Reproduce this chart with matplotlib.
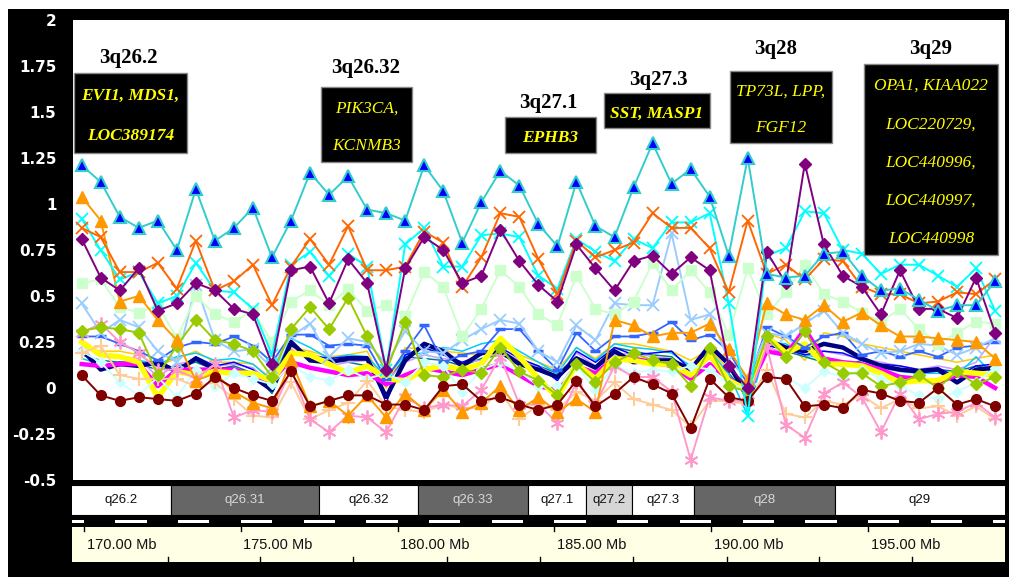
import numpy as np
import matplotlib.pyplot as plt
from matplotlib.patches import Rectangle

W, H = 1009, 577

# ---- data: copy-number log ratios for 49 probes along 3q
cyan_tri = [1.21, 1.12, 0.93, 0.87, 0.91, 0.75, 1.08, 0.80, 0.87, 0.98, 0.71, 0.91, 1.17, 1.05, 1.15, 0.97, 0.95,
            0.91, 1.21, 1.07, 0.79, 1.01, 1.18, 1.10, 0.89, 0.77, 1.12, 0.88, 0.82, 1.09, 1.33, 1.11, 1.19, 1.04,
            0.72, 1.25, 0.62, 0.60, 0.61, 0.73, 0.74, 0.61, 0.53, 0.54, 0.48, 0.42, 0.45, 0.45, 0.58]
orange_x = [0.87, 0.82, 0.63, 0.63, 0.68, 0.54, 0.80, 0.53, 0.58, 0.67, 0.45, 0.66, 0.81, 0.67, 0.88, 0.64, 0.64,
            0.66, 0.85, 0.79, 0.55, 0.71, 0.95, 0.93, 0.70, 0.51, 0.80, 0.71, 0.75, 0.79, 0.95, 0.87, 0.87, 0.76,
            0.52, 0.91, 0.62, 0.67, 0.59, 0.70, 0.69, 0.55, 0.51, 0.51, 0.46, 0.47, 0.52, 0.51, 0.59]
purple_dia = [0.81, 0.60, 0.53, 0.65, 0.42, 0.46, 0.57, 0.53, 0.43, 0.40, 0.13, 0.64, 0.66, 0.46, 0.70, 0.57, 0.10,
              0.65, 0.82, 0.75, 0.57, 0.61, 0.86, 0.69, 0.56, 0.47, 0.78, 0.65, 0.53, 0.69, 0.72, 0.62, 0.71, 0.64,
              0.12, 0.00, 0.74, 0.57, 1.22, 0.78, 0.61, 0.55, 0.40, 0.64, 0.43, 0.43, 0.38, 0.60, 0.30]
cyan_x = [0.92, 0.75, 0.59, 0.63, 0.46, 0.50, 0.68, 0.53, 0.52, 0.43, 0.18, 0.67, 0.74, 0.61, 0.73, 0.66, 0.10,
          0.78, 0.87, 0.66, 0.66, 0.83, 0.84, 0.82, 0.61, 0.54, 0.81, 0.74, 0.69, 0.81, 0.76, 0.90, 0.90, 0.95,
          0.46, -0.15, 0.72, 0.76, 0.96, 0.95, 0.75, 0.73, 0.62, 0.67, 0.67, 0.61, 0.55, 0.65, 0.42]
green_sq = [0.57, 0.59, 0.44, 0.41, 0.45, 0.27, 0.50, 0.40, 0.36, 0.42, 0.25, 0.47, 0.53, 0.45, 0.54, 0.42, 0.45,
            0.39, 0.63, 0.55, 0.28, 0.43, 0.64, 0.55, 0.40, 0.34, 0.61, 0.43, 0.40, 0.47, 0.68, 0.53, 0.64, 0.52,
            0.29, 0.65, 0.40, 0.52, 0.67, 0.51, 0.47, 0.41, 0.36, 0.43, 0.32, 0.24, 0.30, 0.36, 0.35]
orange_tri = [1.04, 0.91, 0.47, 0.50, 0.37, 0.26, 0.04, 0.08, -0.02, -0.08, -0.11, 0.15, -0.10, -0.07, -0.15, -0.04,
              -0.16, -0.03, -0.12, -0.01, -0.13, -0.08, 0.01, -0.12, -0.05, -0.13, -0.06, -0.13, 0.37, 0.34, 0.28,
              0.30, 0.30, 0.35, 0.21, 0.05, 0.46, 0.40, 0.37, 0.45, 0.36, 0.41, 0.34, 0.28, 0.28, 0.27, 0.26, 0.25, 0.16]
green_dia = [0.31, 0.33, 0.32, 0.30, 0.07, 0.23, 0.37, 0.26, 0.24, 0.20, 0.06, 0.32, 0.44, 0.32, 0.49, 0.28, 0.09,
             0.36, 0.07, 0.06, 0.10, 0.08, 0.22, 0.09, 0.04, -0.04, 0.13, 0.03, 0.14, 0.19, 0.15, 0.13, 0.01, 0.22,
             0.01, -0.02, 0.28, 0.17, 0.31, 0.14, 0.08, 0.08, 0.01, 0.03, 0.07, 0.00, 0.09, 0.02, 0.06]
ltblue_x = [0.46, 0.30, 0.37, 0.33, 0.20, 0.14, 0.56, 0.26, 0.20, 0.21, 0.11, 0.28, 0.35, 0.17, 0.27, 0.25, 0.13,
            0.31, 0.20, 0.19, 0.26, 0.32, 0.37, 0.35, 0.20, 0.14, 0.34, 0.26, 0.46, 0.45, 0.45, 0.84, 0.37, 0.40,
            0.15, 0.05, 0.30, 0.28, 0.35, 0.42, 0.30, 0.24, 0.19, 0.20, 0.24, 0.23, 0.18, 0.22, 0.27]
darkred = [0.07, -0.04, -0.07, -0.05, -0.06, -0.07, -0.03, 0.06, 0.00, -0.04, -0.07, 0.09, -0.10, -0.07, -0.04, -0.04,
           -0.09, -0.09, -0.12, 0.01, 0.02, -0.07, -0.05, -0.09, -0.12, -0.09, 0.04, -0.10, -0.03, 0.06, 0.02, -0.03,
           -0.22, 0.05, -0.05, -0.07, 0.06, 0.05, -0.10, -0.09, -0.11, -0.01, -0.03, -0.07, -0.08, 0.00, -0.09, -0.06, -0.10]
pink_ast = [0.30, 0.35, 0.25, 0.19, 0.10, 0.10, 0.05, 0.13, -0.16, -0.12, -0.13, 0.10, -0.17, -0.24, -0.15, -0.16,
            -0.24, -0.05, -0.11, -0.09, -0.10, -0.01, 0.17, -0.09, -0.09, -0.19, 0.03, -0.09, 0.12, 0.06, 0.06, -0.02,
            -0.39, -0.05, -0.07, -0.07, 0.23, -0.20, -0.27, -0.03, 0.03, -0.05, -0.24, -0.03, -0.17, -0.14, -0.13, -0.08, -0.16]
peach_plus = [0.19, 0.23, 0.07, 0.05, 0.05, 0.05, 0.01, 0.03, -0.06, -0.15, -0.16, 0.03, -0.17, -0.12, -0.08, 0.04,
              -0.10, -0.12, -0.13, -0.09, -0.11, -0.11, -0.02, -0.17, -0.09, -0.12, -0.02, -0.07, 0.03, -0.06, -0.09,
              -0.12, -0.21, -0.07, -0.07, -0.09, 0.10, -0.14, -0.16, -0.07, -0.09, -0.04, -0.11, -0.06, -0.11, -0.10,
              -0.15, -0.10, -0.17]
navy = [0.21, 0.10, 0.13, 0.12, 0.14, 0.09, 0.16, 0.10, 0.10, 0.06, -0.01, 0.25, 0.15, 0.14, 0.16, 0.16, -0.05,
        0.15, 0.24, 0.20, 0.12, 0.19, 0.20, 0.13, 0.10, 0.06, 0.16, 0.11, 0.20, 0.14, 0.15, 0.15, 0.10, 0.23, 0.13,
        -0.05, 0.26, 0.22, 0.20, 0.24, 0.22, 0.16, 0.12, 0.10, 0.09, 0.10, 0.03, 0.10, 0.11]
yellow = [0.25, 0.18, 0.17, 0.14, -0.05, 0.09, 0.07, 0.09, 0.08, 0.08, 0.04, 0.19, 0.18, 0.13, 0.08, 0.12, 0.05,
          0.04, 0.10, 0.12, 0.10, 0.13, 0.27, 0.17, 0.05, -0.05, 0.13, 0.05, 0.16, 0.15, 0.13, 0.13, 0.07, 0.18,
          0.04, -0.01, 0.28, 0.19, 0.24, 0.13, 0.13, 0.12, 0.08, 0.03, 0.04, 0.04, 0.09, 0.08, 0.07]
magenta = [0.13, 0.12, 0.13, 0.13, 0.01, 0.10, 0.10, 0.10, 0.10, 0.07, 0.03, 0.14, 0.11, 0.09, 0.07, 0.08, 0.02,
           0.07, 0.11, 0.09, 0.07, 0.10, 0.13, 0.07, 0.01, -0.01, 0.12, 0.08, 0.16, 0.16, 0.14, 0.12, 0.05, 0.13,
           0.05, -0.02, 0.20, 0.18, 0.32, 0.16, 0.14, 0.13, 0.10, 0.06, 0.05, 0.03, 0.07, 0.06, 0.00]
ltcyan_dia = [0.20, 0.14, 0.03, -0.04, 0.06, -0.05, 0.10, 0.01, 0.08, 0.05, 0.02, 0.13, 0.06, 0.04, 0.10, 0.05,
              0.08, 0.03, 0.14, 0.12, -0.02, 0.10, 0.14, 0.09, 0.01, 0.01, 0.12, -0.01, 0.12, 0.08, 0.10, 0.09,
              0.12, 0.10, 0.02, 0.00, 0.05, 0.06, 0.00, 0.09, 0.06, 0.10, 0.05, 0.01, -0.04, -0.06, -0.02, 0.03, 0.11]
royal = [0.28, 0.28, 0.24, 0.20, 0.15, 0.22, 0.25, 0.24, 0.28, 0.23, 0.14, 0.29, 0.29, 0.23, 0.24, 0.23, 0.05,
         0.20, 0.34, 0.14, 0.18, 0.20, 0.32, 0.32, 0.20, 0.10, 0.30, 0.20, 0.28, 0.28, 0.30, 0.36, 0.26, 0.29,
         0.20, 0.02, 0.33, 0.28, 0.22, 0.28, 0.30, 0.18, 0.20, 0.17, 0.20, 0.17, 0.22, 0.23, 0.25]
gold = [0.22, 0.20, 0.20, 0.18, 0.12, 0.16, 0.20, 0.14, 0.14, 0.13, 0.05, 0.22, 0.20, 0.17, 0.18, 0.20, 0.00,
        0.22, 0.21, 0.20, 0.19, 0.18, 0.24, 0.18, 0.14, 0.10, 0.22, 0.16, 0.24, 0.24, 0.22, 0.20, 0.15, 0.21,
        0.10, 0.02, 0.30, 0.26, 0.15, 0.30, 0.28, 0.24, 0.22, 0.20, 0.18, 0.16, 0.14, 0.16, 0.18]
teal = [0.18, 0.15, 0.14, 0.13, 0.10, 0.12, 0.14, 0.10, 0.12, 0.08, -0.03, 0.20, 0.17, 0.15, 0.14, 0.12, 0.02,
        0.17, 0.16, 0.15, 0.12, 0.16, 0.18, 0.14, 0.12, 0.08, 0.17, 0.12, 0.22, 0.20, 0.18, 0.17, 0.08, 0.17,
        0.08, -0.04, 0.24, 0.20, 0.17, 0.14, 0.12, 0.15, 0.12, 0.10, 0.08, 0.10, 0.09, 0.12, 0.10]
lavender = [0.24, 0.19, 0.17, 0.16, 0.06, 0.13, 0.15, 0.12, 0.13, 0.11, 0.02, 0.21, 0.16, 0.12, 0.14, 0.15, 0.04,
            0.14, 0.18, 0.16, 0.14, 0.15, 0.20, 0.15, 0.12, 0.06, 0.19, 0.12, 0.18, 0.19, 0.17, 0.16, 0.09, 0.16,
            0.06, -0.01, 0.22, 0.19, 0.21, 0.20, 0.18, 0.16, 0.14, 0.12, 0.10, 0.12, 0.10, 0.14, 0.28]
deepsky = [0.16, 0.13, 0.12, 0.15, 0.13, 0.17, 0.19, 0.15, 0.16, 0.13, 0.04, 0.27, 0.22, 0.16, 0.18, 0.17, 0.06,
           0.18, 0.19, 0.22, 0.20, 0.24, 0.26, 0.20, 0.14, 0.08, 0.22, 0.15, 0.24, 0.22, 0.21, 0.19, 0.12, 0.20,
           0.08, -0.15, 0.25, 0.24, 0.18, 0.16, 0.13, 0.12, 0.11, 0.09, 0.08, 0.08, 0.07, 0.17, 0.06]
blue = [0.19, 0.12, 0.14, 0.14, 0.12, 0.10, 0.17, 0.12, 0.14, 0.10, 0.00, 0.23, 0.18, 0.16, 0.17, 0.17, -0.08,
        0.18, 0.22, 0.18, 0.14, 0.18, 0.22, 0.16, 0.12, 0.04, 0.20, 0.14, 0.22, 0.18, 0.19, 0.20, 0.10, 0.22,
        0.14, -0.08, 0.23, 0.21, 0.18, 0.20, 0.19, 0.15, 0.13, 0.12, 0.10, 0.11, 0.06, 0.12, 0.13]

ytick_vals = [2, 1.75, 1.5, 1.25, 1, 0.75, 0.5, 0.25, 0, -0.25, -0.5]
ytick_labels = ['2', '1.75', '1.5', '1.25', '1', '0.75', '0.5', '0.25', '0', '-0.25', '-0.5']

# cytobands (Mb)
band_names = ['q26.2', 'q26.31', 'q26.32', 'q26.33', 'q27.1', 'q27.2', 'q27.3', 'q28', 'q29']
band_start = [169.0, 172.77, 177.49, 180.65, 184.16, 186.01, 187.47, 189.45, 193.95]
band_end = [172.77, 177.49, 180.65, 184.16, 186.01, 187.47, 189.45, 193.95, 200.0]
band_stain = ['w', 'd', 'w', 'd', 'w', 'l', 'w', 'd', 'w']
mb_labels = [170, 175, 180, 185, 190, 195]
minor_mb = [172.68, 175.61, 178.58, 181.58, 184.54, 187.50, 190.50, 193.43, 196.40]

regions = ['3q26.2', '3q26.32', '3q27.1', '3q27.3', '3q28', '3q29']
genes = [['EVI1, MDS1,', 'LOC389174'], ['PIK3CA,', 'KCNMB3'], ['EPHB3'], ['SST, MASP1'],
         ['TP73L, LPP,', 'FGF12'],
         ['OPA1, KIAA022', 'LOC220729,', 'LOC440996,', 'LOC440997,', 'LOC440998']]
genes_bold = [True, False, True, True, False, False]

# ---- layout helpers (pixel -> figure fraction)
def fx(px):
    return px / W

def fy(py):
    return 1 - py / H

fig = plt.figure(figsize=(W / 100, H / 100), dpi=100, facecolor='white')
fig.patches.append(Rectangle((fx(8), 0), 1 - fx(8), fy(9), transform=fig.transFigure,
                             facecolor='black', edgecolor='none', zorder=-5))

# main plot
ax = fig.add_axes([fx(73), fy(480), fx(1005) - fx(73), fy(20) - fy(480)])
ax.set_facecolor('white')
xs = np.arange(len(cyan_tri))

thin = [(gold, '#FFCC00'), (teal, '#008080'), (lavender, '#CC99FF'), (deepsky, '#00CCFF'), (blue, '#0000FF')]
for vals, col in thin:
    ax.plot(xs, vals, color=col, lw=1.1, zorder=2)

ax.plot(xs, navy, color='#000080', lw=3.2, zorder=3)
ax.plot(xs, magenta, color='#FF00FF', lw=3.2, zorder=3)
ax.plot(xs, yellow, color='#FFFF00', lw=4, zorder=3)
ax.plot(xs, royal, color='#3366FF', lw=1.3, marker='_', ms=7, mew=2.5, zorder=3)

marked = [
    (ltcyan_dia, '#CCFFFF', 'D', 5.5, '#CCFFFF', '#CCFFFF', 1.0),
    (peach_plus, '#FFCC99', '+', 10, '#FFCC99', '#FFCC99', 1.5),
    (pink_ast, '#FF99CC', (6, 2, 0), 10, '#FF99CC', '#FF99CC', 1.3),
    (ltblue_x, '#99CCFF', 'x', 8, '#99CCFF', '#99CCFF', 1.3),
    (green_sq, '#CCFFCC', 's', 6.5, '#CCFFCC', '#CCFFCC', 1.0),
    (green_dia, '#99CC00', 'D', 6, '#99CC00', '#99CC00', 1.0),
    (orange_tri, '#FF9900', '^', 9, '#FF9900', '#FF9900', 1.0),
    (darkred, '#800000', 'o', 7, '#800000', '#800000', 1.0),
    (cyan_x, '#00FFFF', 'x', 9, '#00FFFF', '#00FFFF', 1.3),
    (orange_x, '#FF6600', 'x', 9, '#FF6600', '#FF6600', 1.3),
    (purple_dia, '#800080', 'D', 6.5, '#800080', '#800080', 1.0),
    (cyan_tri, '#33CCCC', '^', 8, '#0000FF', '#33CCCC', 1.5),
]
for vals, col, mk, ms, mfc, mec, mew in marked:
    ax.plot(xs, vals, color=col, lw=1.4, marker=mk, ms=ms, mfc=mfc, mec=mec, mew=mew, zorder=4)

ax.set_xlim(-0.457, 48.52)
ax.set_ylim(-0.5, 2)
ax.set_xticks([])
ax.set_yticks(ytick_vals)
ax.set_yticklabels(ytick_labels)
ax.tick_params(axis='y', length=0, pad=12, labelcolor='white', labelsize=11)
for lab in ax.get_yticklabels():
    lab.set_fontweight('bold')
    lab.set_fontfamily('DejaVu Sans')
for s in ax.spines.values():
    s.set_visible(False)

# region annotations
boxes = [(74, 73, 187, 153), (321, 87, 412, 162), (505, 117, 596, 153), (604, 93, 710, 128),
         (730, 71, 832, 143), (864, 64, 998, 255)]
label_pos = [(128, 58), (366, 68), (548, 103), (658, 80), (776, 49), (931, 49)]
for name, gl, bold, (x0, y0, x1, y1), (lx, ly) in zip(regions, genes, genes_bold, boxes, label_pos):
    fig.patches.append(Rectangle((fx(x0), fy(y1)), fx(x1) - fx(x0), fy(y0) - fy(y1), transform=fig.transFigure,
                                 facecolor='black', edgecolor='#888888', lw=1, zorder=5))
    fig.text(fx(lx), fy(ly), name, ha='center', va='center', family='Liberation Serif',
             fontweight='bold', fontsize=15, color='black', zorder=6)
    n = len(gl)
    step = (y1 - y0) / n
    for i, g in enumerate(gl):
        fig.text(fx((x0 + x1) / 2), fy(y0 + (i + 0.5) * step + 3), g, ha='center', va='center',
                 family='Liberation Serif', style='italic', fontweight='bold' if bold else 'normal',
                 fontsize=12.5, color='#FFFF00', zorder=6)

# chromosome ideogram + ruler
def mb_at(px):
    return 170 + (px - 84) / 31.36

ax2 = fig.add_axes([fx(72), fy(562), fx(1005) - fx(72), fy(484) - fy(562)])
ax2.set_xlim(mb_at(72), mb_at(1005))
ax2.set_ylim(562, 484)
ax2.axis('off')
fills = {'w': 'white', 'd': '#666666', 'l': '#D6D6D6'}
tcols = {'w': '#111111', 'd': '#D8D8D8', 'l': '#111111'}
lo, hi = ax2.get_xlim()
for nm, s, e, st in zip(band_names, band_start, band_end, band_stain):
    ax2.add_patch(Rectangle((s, 485), e - s, 30, facecolor=fills[st], edgecolor='black', lw=0.8))
    cx = (max(s, lo) + min(e, hi)) / 2
    ax2.text(cx, 500, nm, ha='center', va='center', fontsize=9.5, color=tcols[st],
             family='Liberation Sans')
ax2.add_patch(Rectangle((lo, 515), hi - lo, 12, facecolor='black', edgecolor='none'))
for m in range(169, 200, 2):
    ax2.add_patch(Rectangle((m, 520), 1, 3, facecolor='white', edgecolor='none'))
ax2.add_patch(Rectangle((lo, 527), hi - lo, 35, facecolor='#FFFFE6', edgecolor='none'))
for m in mb_labels:
    ax2.plot([m, m], [525, 531], color='black', lw=1)
    ax2.text(m + 0.08, 545, f'{m:.2f} Mb', ha='left', va='center', fontsize=10.5, color='#111111',
             family='Liberation Sans')
for m in minor_mb:
    ax2.plot([m, m], [557, 562], color='black', lw=1)

fig.savefig('out.png', dpi=100, facecolor=fig.get_facecolor())
